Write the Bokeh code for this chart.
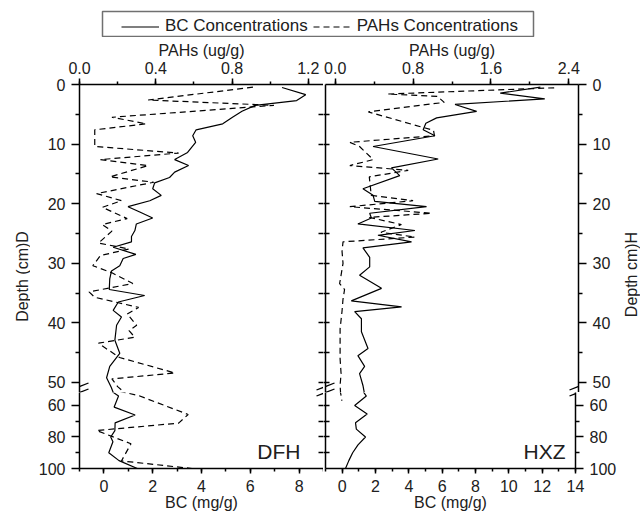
import math
from bokeh.plotting import figure
from bokeh.models import (Range1d, LinearAxis, FixedTicker, SingleIntervalTicker, Arrow,
                          PrintfTickFormatter, CustomJSTickFormatter, Legend, LegendItem, Label)
from bokeh.layouts import column, row
from bokeh.embed import file_html
from bokeh.resources import INLINE

FONT = "Liberation Sans"
TXT = "#202020"

# ---------------- data ----------------
# DFH core
dfh_bc_depth = [0.5, 1.7, 2.7, 3.5, 4.5, 5.5, 6.6, 7.6, 8.6, 9.7, 11.4, 12.6, 13.6, 14.7, 15.6,
                16.5, 17.5, 18.6, 19.5, 20.5, 21.4, 22.4, 23.4, 24.5, 25.5, 26.4, 27.3, 28.5,
                29.2, 30.4, 31.3, 32.6, 34.4, 35.4, 36.5, 37.9, 39.0, 40.4, 42.9, 45.1, 47.3,
                49.2, 50.8, 54, 61, 66, 71, 76, 80, 83, 90, 95, 100]
dfh_bc = [7.3, 8.27, 7.9, 6.2, 5.66, 5.27, 4.87, 3.78, 3.64, 3.76, 3.43, 2.9, 3.47, 2.9, 2.69,
          2.08, 2.0, 2.35, 1.88, 0.99, 1.47, 2.0, 1.33, 1.27, 1.13, 1.13, 0.38, 1.31,
          0.79, 0.65, 0.31, 0.24, 0.22, 1.67, 0.59, 0.38, 0.72, 0.52, 0.45, 0.65, 0.24,
          0.11, 0.3, 0.6, 0.42, 1.28, 0.46, 0.45, 0.28, 0.37, 0.2, 0.62, 1.37]
dfh_pah_depth = [0.45, 2.6, 3.5, 5.5, 6.6, 7.6, 10.4, 11.5, 12.6, 13.6, 15.5, 16.4, 18.3, 19.5,
                 20.6, 22.5, 23.5, 24.6, 26.6, 27.6, 28.7, 30.4, 31.6, 33.4, 34.8, 35.7, 37.4,
                 38.5, 40.4, 41.3, 42.4, 43.4, 44.1, 45.8, 48.4, 49.4, 50.7, 53.7, 65.7, 71.2,
                 75.9, 84.3, 95.2, 100]
dfh_pah = [0.91, 0.36, 1.02, 0.17, 0.35, 0.08, 0.08, 0.52, 0.11, 0.36, 0.16, 0.39, 0.09, 0.22,
           0.12, 0.25, 0.12, 0.17, 0.10, 0.26, 0.11, 0.07, 0.17, 0.28, 0.05, 0.08, 0.31,
           0.25, 0.30, 0.26, 0.29, 0.10, 0.13, 0.21, 0.50, 0.17, 0.20, 0.31, 0.57, 0.52,
           0.09, 0.27, 0.22, 0.59]

# HXZ core
hxz_bc_depth = [0.45, 1.45, 2.4, 3.35, 4.5, 5.6, 6.5, 7.6, 8.6, 10.4, 12.5, 14.0, 15.3, 17.5,
                18.6, 19.6, 20.5, 21.6, 22.4, 23.4, 24.5, 25.3, 26.4, 27.4, 29.0, 30.6, 32.0,
                34.2, 36.3, 37.3, 38.1, 39.3, 41.5, 44.3, 45.5, 47.3, 48.5, 50.5, 54, 60,
                65.4, 70.9, 75, 80, 85, 90, 95, 100]
hxz_bc = [11.74, 9.36, 12.0, 6.68, 7.96, 5.59, 4.95, 4.79, 5.49, 1.82, 5.68, 2.91, 3.40, 1.22,
          1.82, 1.92, 4.99, 1.62, 1.72, 0.92, 4.30, 2.11, 4.1, 1.22, 1.62, 1.62, 1.02,
          2.32, 0.53, 3.51, 0.73, 1.13, 1.13, 1.52, 0.92, 1.32, 1.02, 1.22, 1.45, 0.75,
          1.5, 0.8, 0.85, 1.4, 0.95, 0.63, 0.4, 0.2]
hxz_pah_depth = [0.55, 1.6, 2.0, 3.0, 4.6, 7.7, 8.6, 9.7, 10.4, 12.6, 13.6, 14.4, 15.5, 18.6,
                 19.5, 20.5, 21.6, 22.3, 23.5, 24.8, 25.6, 26.4, 28, 30, 32, 33.4, 34.4, 36,
                 38, 41, 44, 46, 48.5, 50.5, 53, 57]
hxz_pah = [2.25, 0.54, 1.05, 1.12, 0.34, 1.01, 1.02, 0.15, 0.25, 0.39, 0.15, 0.75, 0.35, 0.37,
           0.80, 0.15, 0.99, 0.35, 0.68, 0.47, 0.82, 0.08, 0.07, 0.08, 0.06, 0.045, 0.096, 0.08,
           0.07, 0.05, 0.05, 0.05, 0.06, 0.05, 0.06, 0.07]

upper_ticks = [0, 10, 20, 30, 40, 50]
upper_minor = [5, 15, 25, 35, 45]
lower_ticks = [60, 80, 100]
lower_minor = [70, 90]
mid_upper_ticks = [5, 10, 15, 20, 25, 30, 35, 40, 45, 50]
mid_lower_ticks = [60, 70, 80, 90]

series_names = ["BC Concentrations", "PAHs Concentrations"]
panel_names = ["DFH", "HXZ"]
bc_label = "BC (mg/g)"
pah_label = "PAHs (ug/g)"
depth_labels = ["Depth (cm)D", "Depth cm)H"]

SOLID_W = 1.2
DASH = "6 4"
NO_LABELS = CustomJSTickFormatter(code="return ''")


def style_axis(ax, out=6, minor_out=3, tin=0, labels=True, line=True, standoff=5):
    ax.axis_line_color = "black" if line else None
    ax.axis_line_width = 1.5
    ax.major_tick_line_color = "black"
    ax.major_tick_line_width = 1.5
    ax.minor_tick_line_color = "black"
    ax.minor_tick_line_width = 1.5
    ax.major_tick_out = out
    ax.major_tick_in = tin
    ax.minor_tick_out = minor_out
    ax.minor_tick_in = 0
    ax.major_label_text_font = FONT
    ax.major_label_text_font_size = "16px"
    ax.major_label_standoff = standoff if labels else 0
    if labels:
        ax.major_label_text_color = TXT
    else:
        ax.formatter = NO_LABELS
        ax.major_label_text_color = None
    ax.axis_label_text_font = FONT
    ax.axis_label_text_font_style = "normal"
    ax.axis_label_text_font_size = "16px"
    ax.axis_label_text_color = TXT
    ax.axis_label_standoff = 0


def make_fig(width, height, bc_rng, pah_rng, depth_rng, borders):
    p = figure(width=width, height=height, x_range=Range1d(*bc_rng),
               y_range=Range1d(*depth_rng), extra_x_ranges={"pah": Range1d(*pah_rng)},
               x_axis_location=None, y_axis_location=None,
               output_backend="svg", toolbar_location=None,
               min_border_left=borders[0], min_border_right=borders[1],
               min_border_top=borders[2], min_border_bottom=borders[3])
    p.outline_line_color = None
    p.grid.visible = False
    p.background_fill_color = "white"
    p.border_fill_color = "white"
    return p


def draw(p, bc_d, bc_v, pah_d, pah_v):
    p.line(bc_v, bc_d, line_color="black", line_width=SOLID_W)
    p.line(pah_v, pah_d, line_color="black", line_width=SOLID_W, line_dash=DASH,
           x_range_name="pah")


def add_label(p, text, x, y, size="16px", align="center", baseline="middle", angle=0.0):
    p.add_layout(Label(x=x, y=y, x_units="screen", y_units="screen", text=text,
                       text_font=FONT, text_font_size=size, text_color=TXT,
                       text_align=align, text_baseline=baseline, angle=angle))


def add_break(p, xs_rel, y_rel):
    """two short slanted strokes crossing an axis (axis-break symbol)"""
    for xc in xs_rel:
        for dy in (3, -3):
            p.add_layout(Arrow(x_start=xc - 9, y_start=y_rel + dy - 3.5,
                               x_end=xc + 9, y_end=y_rel + dy + 3.5,
                               start_units="screen", end_units="screen", end=None,
                               line_color="black", line_width=1.3))


def plain_fig(width, height):
    p = figure(width=width, height=height, x_range=Range1d(0, 1), y_range=Range1d(0, 1),
               x_axis_location=None, y_axis_location=None, output_backend="svg",
               toolbar_location=None, min_border=0)
    p.grid.visible = False
    p.outline_line_color = None
    p.border_fill_color = "white"
    return p


LEG_H = 37
LBL_W, RLBL_W = 30, 21
LW, RW = 293, 296
TOP_B, BOT_B = 47, 46
UH, LH = 355, 122
U_RANGE = (51.68, 0)
L_RANGE = (100, 51.75)
BC_L, BC_R = (-1, 9), (-1, 14)
PAH_L, PAH_R = (0, 1.28), (-0.1, 2.5)
BREAK_Y = 389  # page y of break symbol centre

figs = {}
for side in ("L", "R"):
    bc_rng = BC_L if side == "L" else BC_R
    pah_rng = PAH_L if side == "L" else PAH_R
    w = LW if side == "L" else RW
    b_lr = (49, 0) if side == "L" else (2, 41)
    bc_d, bc_v, pah_d, pah_v = ((dfh_bc_depth, dfh_bc, dfh_pah_depth, dfh_pah) if side == "L"
                                else (hxz_bc_depth, hxz_bc, hxz_pah_depth, hxz_pah))
    # upper part (0-50 cm)
    up = make_fig(w, UH, bc_rng, pah_rng, U_RANGE, (b_lr[0], b_lr[1], TOP_B, 0))
    draw(up, bc_d, bc_v, pah_d, pah_v)
    top = LinearAxis(x_range_name="pah", axis_label=pah_label,
                     ticker=SingleIntervalTicker(interval=0.4 if side == "L" else 0.8,
                                                 num_minor_ticks=2),
                     formatter=PrintfTickFormatter(format="%.1f"))
    style_axis(top, out=6, minor_out=3, standoff=5)
    up.add_layout(top, "above")
    # lower part (60-100 cm)
    lo = make_fig(w, LH, bc_rng, pah_rng, L_RANGE, (b_lr[0], b_lr[1], 0, BOT_B))
    draw(lo, bc_d, bc_v, pah_d, pah_v)
    bot = LinearAxis(axis_label=bc_label,
                     ticker=SingleIntervalTicker(interval=2, num_minor_ticks=2))
    style_axis(bot, out=5, minor_out=3, standoff=6)
    bot.axis_label_standoff = -1
    lo.add_layout(bot, "below")

    fw = w - b_lr[0] - b_lr[1]
    outer = "left" if side == "L" else "right"
    inner = "right" if side == "L" else "left"
    for p, tk, mn, mid in ((up, upper_ticks, upper_minor, mid_upper_ticks),
                           (lo, lower_ticks, lower_minor, mid_lower_ticks)):
        ax = LinearAxis(ticker=FixedTicker(ticks=tk, minor_ticks=mn))
        style_axis(ax, out=8, minor_out=4, standoff=6)
        p.add_layout(ax, outer)
        iax = LinearAxis(ticker=FixedTicker(ticks=mid, minor_ticks=[]))
        if side == "L":
            style_axis(iax, out=0, minor_out=0, tin=5, labels=False, line=False)
        else:
            style_axis(iax, out=2, minor_out=0, tin=4, labels=False)
        p.add_layout(iax, inner)

    up_frame_bottom = LEG_H + UH          # page y
    lo_frame_bottom = up_frame_bottom + LH - BOT_B
    if side == "L":
        add_label(lo, panel_names[0], 221, 17, size="21px", align="right",
                  baseline="alphabetic")
        xs = (0, fw + 2)
    else:
        add_label(lo, panel_names[1], 240, 17, size="21px", align="right",
                  baseline="alphabetic")
        xs = (0, fw)
    add_break(up, xs, up_frame_bottom - BREAK_Y)
    add_break(lo, xs, lo_frame_bottom - BREAK_Y)
    figs[side] = (up, lo)

# side label figures (rotated depth titles); y measured from each figure's bottom
side_bottom = LEG_H + UH + LH   # page y of the bottom of the side figures
lab_l = plain_fig(LBL_W, UH + LH)
add_label(lab_l, depth_labels[0], 22, side_bottom - 276, angle=math.pi / 2)
lab_r = plain_fig(RLBL_W, UH + LH)
add_label(lab_r, depth_labels[1], 12, side_bottom - 274, angle=math.pi / 2)

# legend figure: its frame outline is the legend box
box_l, box_r = 102, 533
TOTAL_W = LBL_W + LW + RW + RLBL_W
lf = figure(width=TOTAL_W, height=LEG_H, x_range=Range1d(0, 1),
            y_range=Range1d(0, 1), x_axis_location=None, y_axis_location=None,
            output_backend="svg", toolbar_location=None, min_border_left=box_l,
            min_border_right=TOTAL_W - box_r,
            min_border_top=11, min_border_bottom=1)
lf.grid.visible = False
lf.outline_line_color = "#707070"
lf.outline_line_width = 1.5
nan = float("nan")
r1 = lf.line(x=[nan], y=[nan], line_color="black", line_width=SOLID_W)
r2 = lf.line(x=[nan], y=[nan], line_color="black", line_width=SOLID_W, line_dash=DASH)
leg = Legend(items=[LegendItem(label=series_names[0], renderers=[r1]),
                    LegendItem(label=series_names[1], renderers=[r2])],
             orientation="horizontal", location=(19, 0), padding=3, spacing=5,
             glyph_width=38, glyph_height=19, label_height=19, label_standoff=6,
             label_text_font=FONT, label_text_font_size="17px", label_text_color=TXT,
             border_line_color=None, background_fill_alpha=0, margin=0)
lf.add_layout(leg, "center")

layout = column(lf, row(lab_l,
                        column(row(figs["L"][0], figs["R"][0]),
                               row(figs["L"][1], figs["R"][1])),
                        lab_r))

open("out.html", "w").write(file_html(layout, INLINE))
